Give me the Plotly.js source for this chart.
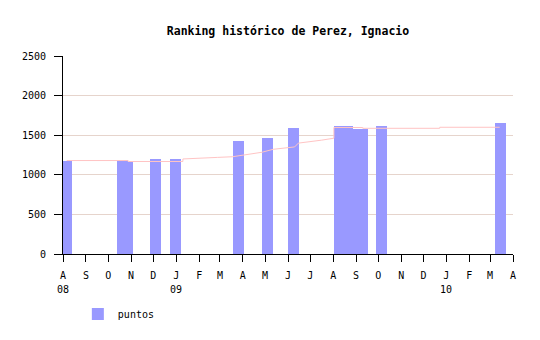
<!DOCTYPE html>
<html>
<head>
<meta charset="utf-8">
<script src="https://cdn.plot.ly/plotly-3.0.1.min.js"></script>
<style>html,body{margin:0;padding:0;background:#fff;}#chart{width:540px;height:340px;}</style>
</head>
<body>
<div id="chart"></div>
<script>
// Bar data: date of each result and its points
const barDates = ['2008-08-06','2008-10-20','2008-10-27','2008-12-04','2008-12-31','2009-03-26','2009-05-04','2009-06-08','2009-08-09','2009-08-20','2009-08-24','2009-09-09','2009-10-05','2010-03-15'];
const barValues = [1180, 1191, 1166, 1204, 1205, 1430, 1466, 1592, 1616, 1616, 1580, 1580, 1616, 1655];

// Trend line (pink)
const lineDates = ['2008-08-06','2008-10-28','2008-10-28','2009-01-10','2009-01-10','2009-02-01','2009-02-26','2009-03-18','2009-04-02','2009-04-20','2009-04-27','2009-05-12','2009-05-24','2009-06-10','2009-06-15','2009-06-30','2009-07-16','2009-08-02','2009-08-02','2009-09-10','2009-09-10','2009-12-23','2009-12-23','2010-03-14'];
const lineValues = [1180, 1180, 1168, 1168, 1200, 1205, 1220, 1228, 1250, 1275, 1285, 1322, 1337, 1352, 1400, 1415, 1437, 1462, 1597, 1597, 1587, 1587, 1600, 1600];

// Axis ticks
const monthTicks = ['2008-08-01','2008-09-01','2008-10-01','2008-11-01','2008-12-01','2009-01-01','2009-02-01','2009-03-01','2009-04-01','2009-05-01','2009-06-01','2009-07-01','2009-08-01','2009-09-01','2009-10-01','2009-11-01','2009-12-01','2010-01-01','2010-02-01','2010-03-01','2010-04-01'];
const monthLetters = ['A','S','O','N','D','J','F','M','A','M','J','J','A','S','O','N','D','J','F','M','A'];
const yearTickDates = ['2008-08-01','2009-01-01','2010-01-01'];
const yearTickText = ['08','09','10'];
const yTicks = [0, 500, 1000, 1500, 2000, 2500];

const DAY = 86400000;
const rev = a => a.slice().reverse();

const font = {family: 'DejaVu Sans Mono, monospace', size: 10, color: '#000'};

const traces = [
  {
    type: 'bar',
    name: 'puntos',
    x: rev(barDates),
    y: rev(barValues),
    width: 15 * DAY,
    marker: {color: '#9999ff', line: {width: 0}},
    hoverinfo: 'x+y'
  },
  {
    type: 'scatter',
    mode: 'lines',
    x: lineDates,
    y: lineValues,
    line: {color: '#ffc4c4', width: 1, shape: 'linear'},
    showlegend: false,
    hoverinfo: 'skip'
  }
];

const yearAnnotations = yearTickDates.map((d, i) => ({
  x: d, xref: 'x', y: -0.18, yref: 'paper',
  text: yearTickText[i], showarrow: false,
  xanchor: 'center', yanchor: 'middle', font: font
}));

const layout = {
  width: 540,
  height: 340,
  margin: {l: 63, r: 27, t: 56, b: 84},
  paper_bgcolor: '#fff',
  plot_bgcolor: '#fff',
  font: font,
  title: {
    text: 'Ranking histórico de Perez, Ignacio',
    font: {family: 'DejaVu Sans Mono, monospace', size: 11.5, weight: 'bold', color: '#000'},
    x: 0.5, xref: 'paper', xanchor: 'center',
    y: 1 - 31 / 340, yref: 'container', yanchor: 'middle'
  },
  xaxis: {
    type: 'date',
    range: ['2008-08-01', '2010-04-01'],
    tickmode: 'array',
    tickvals: monthTicks,
    ticktext: monthLetters,
    ticks: 'outside',
    ticklen: 7,
    tickcolor: '#000',
    tickwidth: 1,
    showline: true,
    linecolor: '#000',
    linewidth: 1,
    showgrid: false,
    zeroline: false,
    tickfont: font,
    ticklabelstandoff: 5,
    fixedrange: true
  },
  yaxis: {
    range: [0, 2500],
    tickmode: 'array',
    tickvals: yTicks,
    ticks: 'outside',
    ticklen: 8,
    tickcolor: '#000',
    tickwidth: 1,
    showline: true,
    linecolor: '#000',
    linewidth: 1,
    showgrid: true,
    gridcolor: '#e6d4cc',
    gridwidth: 1,
    zeroline: false,
    tickfont: font,
    ticklabelstandoff: 6,
    fixedrange: true
  },
  annotations: yearAnnotations,
  bargap: 0,
  showlegend: true,
  legend: {
    x: 0.033, y: -0.23, xanchor: 'left', yanchor: 'top',
    orientation: 'h',
    font: font,
    bgcolor: 'rgba(0,0,0,0)',
    itemwidth: 30
  },
  hovermode: false
};

Plotly.newPlot('chart', traces, layout, {displayModeBar: false, staticPlot: true});
</script>
</body>
</html>
